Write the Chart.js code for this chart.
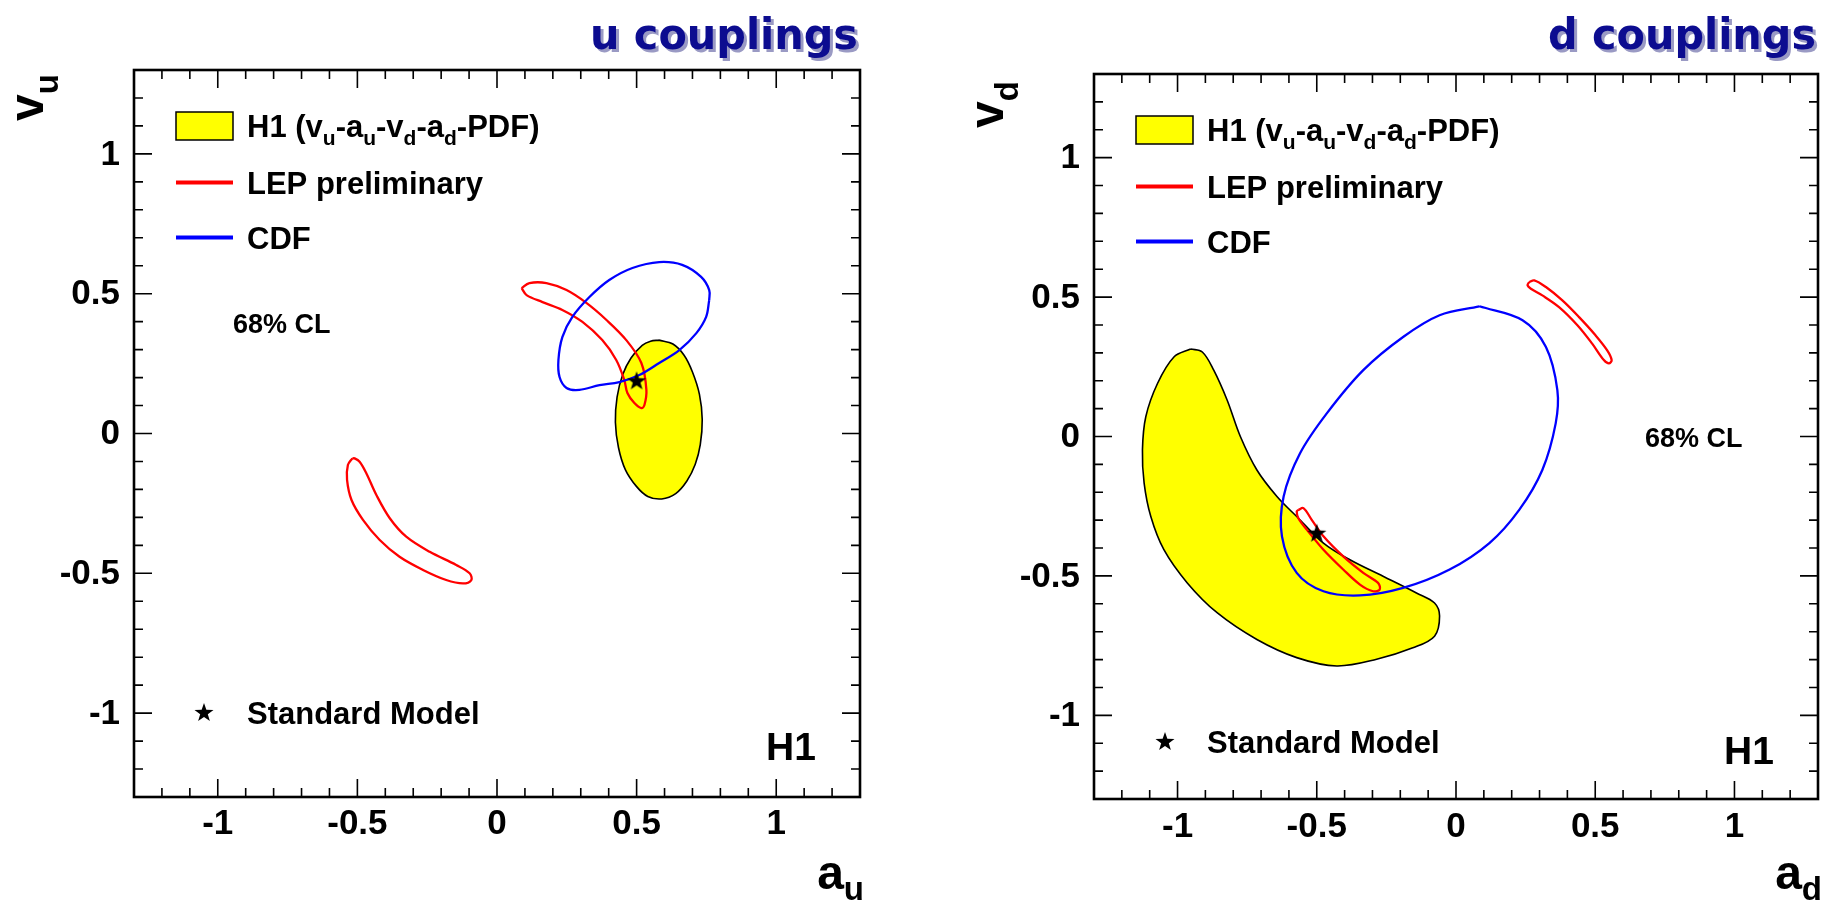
<!DOCTYPE html>
<html>
<head>
<meta charset="UTF-8">
<title>H1 u and d couplings</title>
<style>
  html, body { margin: 0; padding: 0; background: #fff; }
  body { width: 1829px; height: 902px; position: relative; overflow: hidden; }
  canvas { position: absolute; top: 0; }
  #uChart { left: 0; }
  #dChart { left: 914px; }
</style>
</head>
<body>
<canvas id="uChart" width="914" height="902"></canvas>
<canvas id="dChart" width="915" height="902"></canvas>
<script src="https://cdn.jsdelivr.net/npm/chart.js"></script>
<script>
// axis range and labelled ticks (same on both axes of both panels)
const axisMin = -1.3, axisMax = 1.3;
const tickValues = [-1, -0.5, 0, 0.5, 1];
const tickLabels = ['-1', '-0.5', '0', '0.5', '1'];

// ---- u couplings: points are [a_u, v_u] ----
const uH1 = [[0.58,0.334],[0.63,0.32],[0.67,0.28],[0.70,0.22],[0.725,0.14],[0.735,0.05],[0.728,-0.04],[0.71,-0.11],[0.68,-0.17],[0.64,-0.215],[0.59,-0.234],[0.54,-0.225],[0.50,-0.19],[0.46,-0.13],[0.435,-0.05],[0.424,0.04],[0.43,0.13],[0.45,0.21],[0.48,0.27],[0.52,0.315],[0.55,0.33],[0.58,0.334]];
const uLEPa = [[0.088,0.520],[0.116,0.538],[0.177,0.538],[0.249,0.513],[0.320,0.467],[0.392,0.406],[0.463,0.334],[0.517,0.252],[0.535,0.156],[0.528,0.102],[0.517,0.091],[0.492,0.109],[0.467,0.145],[0.456,0.191],[0.427,0.263],[0.377,0.334],[0.306,0.399],[0.234,0.442],[0.163,0.470],[0.106,0.495],[0.088,0.520]];
const uLEPb = [[-0.518,-0.089],[-0.534,-0.113],[-0.537,-0.166],[-0.521,-0.238],[-0.480,-0.309],[-0.420,-0.381],[-0.349,-0.441],[-0.265,-0.488],[-0.182,-0.524],[-0.122,-0.536],[-0.092,-0.524],[-0.098,-0.500],[-0.146,-0.470],[-0.241,-0.423],[-0.325,-0.369],[-0.384,-0.303],[-0.432,-0.220],[-0.468,-0.142],[-0.492,-0.101],[-0.510,-0.089],[-0.518,-0.089]];
const uCDF = [[0.760,0.477],[0.749,0.417],[0.714,0.359],[0.653,0.298],[0.581,0.252],[0.510,0.209],[0.438,0.184],[0.367,0.173],[0.295,0.156],[0.249,0.163],[0.224,0.202],[0.220,0.263],[0.234,0.345],[0.270,0.417],[0.331,0.488],[0.402,0.549],[0.485,0.592],[0.581,0.613],[0.663,0.603],[0.731,0.560],[0.760,0.513],[0.760,0.477]];
const uSM = [[0.5, 0.19]];

// ---- d couplings: points are [a_d, v_d] ----
const dH1 = [[-0.953,0.314],[-1.013,0.285],[-1.072,0.190],[-1.114,0.071],[-1.126,-0.048],[-1.120,-0.167],[-1.096,-0.287],[-1.049,-0.406],[-0.965,-0.525],[-0.858,-0.632],[-0.715,-0.728],[-0.572,-0.793],[-0.428,-0.823],[-0.285,-0.799],[-0.155,-0.758],[-0.077,-0.716],[-0.059,-0.644],[-0.077,-0.597],[-0.142,-0.561],[-0.262,-0.501],[-0.381,-0.442],[-0.476,-0.382],[-0.572,-0.287],[-0.643,-0.215],[-0.715,-0.120],[-0.774,-0.001],[-0.822,0.131],[-0.870,0.238],[-0.911,0.303],[-0.953,0.314]];
const dLEPa = [[-0.566,-0.263],[-0.548,-0.257],[-0.518,-0.299],[-0.476,-0.358],[-0.405,-0.430],[-0.333,-0.489],[-0.280,-0.525],[-0.274,-0.549],[-0.298,-0.555],[-0.345,-0.531],[-0.405,-0.477],[-0.476,-0.406],[-0.536,-0.334],[-0.566,-0.293],[-0.572,-0.269],[-0.566,-0.263]];
const dLEPb = [[0.263,0.554],[0.281,0.560],[0.323,0.536],[0.382,0.488],[0.442,0.428],[0.501,0.363],[0.543,0.309],[0.559,0.274],[0.549,0.262],[0.531,0.274],[0.489,0.333],[0.436,0.399],[0.370,0.464],[0.310,0.506],[0.269,0.530],[0.257,0.542],[0.263,0.554]];
const dCDF = [[0.084,0.467],[0.239,0.417],[0.323,0.321],[0.364,0.166],[0.358,0.047],[0.310,-0.120],[0.227,-0.263],[0.120,-0.382],[-0.023,-0.477],[-0.190,-0.543],[-0.345,-0.570],[-0.476,-0.555],[-0.572,-0.489],[-0.625,-0.358],[-0.619,-0.215],[-0.560,-0.060],[-0.464,0.083],[-0.333,0.238],[-0.190,0.357],[-0.059,0.435],[0.084,0.467]];
const dSM = [[-0.5, -0.345]];

const FONT = '"Liberation Sans", Arial, sans-serif';

function makeStar(size) {
  const c = document.createElement('canvas');
  c.width = c.height = size;
  const g = c.getContext('2d');
  g.beginPath();
  for (let k = 0; k < 10; k++) {
    const r = k % 2 ? size * 0.2 : size * 0.5;
    const ang = -Math.PI / 2 + k * Math.PI / 5;
    g.lineTo(size / 2 + r * Math.cos(ang), size / 2 + 1 + r * Math.sin(ang));
  }
  g.closePath();
  g.fillStyle = '#000';
  g.fill();
  return c;
}
const star = makeStar(20);

const toPts = arr => arr.map(([x, y]) => ({x, y}));

function contour(label, arr, color, order) {
  return {
    label, data: toPts(arr), showLine: true, fill: false,
    borderColor: color, borderWidth: 2.3, pointRadius: 0, tension: 0.35, order
  };
}

// draw a string made of normal and subscript pieces, returns end x
function drawParts(ctx, parts, x, y, size) {
  for (const [txt, sub] of parts) {
    const s = sub ? Math.round(size * 0.68) : size;
    ctx.font = 'bold ' + s + 'px ' + FONT;
    ctx.fillText(txt, x, sub ? y + size * 0.27 : y);
    x += ctx.measureText(txt).width;
  }
  return x;
}

const decoPlugin = {
  id: 'deco',
  afterDatasetsDraw(chart, args, o) {
    const {ctx, chartArea: a, scales: {x, y}} = chart;
    ctx.save();
    ctx.strokeStyle = '#000';
    ctx.fillStyle = '#000';

    // tick marks on all four sides, pointing inwards
    ctx.lineWidth = 1.6;
    ctx.beginPath();
    for (let i = -12; i <= 12; i++) {
      const v = i / 10;
      const len = i % 5 === 0 ? 18 : 9;
      const px = x.getPixelForValue(v), py = y.getPixelForValue(v);
      ctx.moveTo(px, a.bottom); ctx.lineTo(px, a.bottom - len);
      ctx.moveTo(px, a.top); ctx.lineTo(px, a.top + len);
      ctx.moveTo(a.left, py); ctx.lineTo(a.left + len, py);
      ctx.moveTo(a.right, py); ctx.lineTo(a.right - len, py);
    }
    ctx.stroke();
    ctx.lineWidth = 2.6;
    ctx.strokeRect(a.left, a.top, a.right - a.left, a.bottom - a.top);

    // tick labels
    ctx.font = 'bold 35px ' + FONT;
    ctx.textBaseline = 'middle';
    ctx.textAlign = 'center';
    tickValues.forEach((v, i) => ctx.fillText(tickLabels[i], x.getPixelForValue(v), a.bottom + o.xLabelDy));
    ctx.textAlign = 'right';
    tickValues.forEach((v, i) => ctx.fillText(tickLabels[i], a.left - 14, y.getPixelForValue(v) + 1));

    // axis titles
    ctx.textAlign = 'left';
    ctx.textBaseline = 'alphabetic';
    ctx.font = 'bold 48px ' + FONT;
    const wa = ctx.measureText('a').width;
    ctx.font = 'bold 33px ' + FONT;
    const ws = ctx.measureText(o.sub).width;
    const tx = a.right + 4 - wa - ws;
    ctx.font = 'bold 48px ' + FONT;
    ctx.fillText('a', tx, 889);
    ctx.font = 'bold 33px ' + FONT;
    ctx.fillText(o.sub, tx + wa, 900);

    ctx.save();
    ctx.translate(a.left - 91, o.vStart);
    ctx.rotate(-Math.PI / 2);
    ctx.font = 'bold 48px ' + FONT;
    ctx.fillText('v', 0, 0);
    const wv = ctx.measureText('v').width;
    ctx.font = 'bold 33px ' + FONT;
    ctx.fillText(o.sub, wv, 15);
    ctx.restore();

    // legend
    const lx = a.left + 42, tX = a.left + 113;
    const r1 = a.top + 56, r2 = a.top + 112.5, r3 = a.top + 167.5;
    ctx.fillStyle = '#ffff00';
    ctx.fillRect(lx, r1 - 14, 57, 28);
    ctx.lineWidth = 1.5;
    ctx.strokeRect(lx, r1 - 14, 57, 28);
    ctx.lineWidth = 4;
    ctx.strokeStyle = '#ff0000';
    ctx.beginPath(); ctx.moveTo(lx, r2); ctx.lineTo(lx + 57, r2); ctx.stroke();
    ctx.strokeStyle = '#0000ff';
    ctx.beginPath(); ctx.moveTo(lx, r3); ctx.lineTo(lx + 57, r3); ctx.stroke();
    ctx.fillStyle = '#000';
    drawParts(ctx, [['H1 (v',0],['u',1],['-a',0],['u',1],['-v',0],['d',1],['-a',0],['d',1],['-PDF)',0]], tX, r1 + 11, 31);
    drawParts(ctx, [['LEP preliminary', 0]], tX, r2 + 11, 31);
    drawParts(ctx, [['CDF', 0]], tX, r3 + 11, 31);

    // Standard Model entry
    ctx.drawImage(star, a.left + o.sm[0] - 10, a.top + o.sm[1] - 11);
    drawParts(ctx, [['Standard Model', 0]], tX, a.top + o.sm[1] + 11, 31);

    // 68% CL
    drawParts(ctx, [['68% CL', 0]], a.left + o.cl[0], a.top + o.cl[1] + 10, 27);

    // H1 tag
    drawParts(ctx, [['H1', 0]], a.left + o.h1x, a.top + 690, 39);

    // panel title
    ctx.font = 'bold 42px "DejaVu Sans", sans-serif';
    const tw = ctx.measureText(o.title).width;
    const sx = 268 / tw;
    ctx.save();
    ctx.translate(a.right - 270, 49);
    ctx.scale(sx, 1);
    ctx.fillStyle = '#9a9ac4';
    ctx.fillText(o.title, 3 / sx, 3);
    ctx.fillStyle = '#0c0c90';
    ctx.fillText(o.title, 0, 0);
    ctx.restore();

    ctx.restore();
  }
};

function makePanel(id, padding, sets, deco) {
  new Chart(document.getElementById(id), {
    type: 'scatter',
    data: {datasets: sets},
    options: {
      responsive: false,
      animation: false,
      events: [],
      layout: {padding},
      scales: {
        x: {type: 'linear', min: axisMin, max: axisMax, display: false},
        y: {type: 'linear', min: axisMin, max: axisMax, display: false}
      },
      plugins: {legend: {display: false}, tooltip: {enabled: false}, deco}
    },
    plugins: [decoPlugin]
  });
}

function panelSets(h1, lepA, lepB, cdf, sm) {
  return [
    {label: 'Standard Model', data: toPts(sm), pointStyle: star, pointRadius: 10, showLine: false, order: 0},
    contour('CDF', cdf, '#0000ff', 1),
    contour('LEP preliminary', lepA, '#ff0000', 2),
    contour('LEP preliminary', lepB, '#ff0000', 2),
    {label: 'H1', data: toPts(h1), showLine: true, fill: 'shape', backgroundColor: '#ffff00',
     borderColor: '#000', borderWidth: 1.6, pointRadius: 0, tension: 0.35, order: 10}
  ];
}

makePanel('uChart', {left: 134, right: 54, top: 70, bottom: 105},
  panelSets(uH1, uLEPa, uLEPb, uCDF, uSM),
  {sub: 'u', title: 'u couplings', vStart: 121, xLabelDy: 27, sm: [70, 643], cl: [99, 253], h1x: 632});

makePanel('dChart', {left: 180, right: 9, top: 74, bottom: 103},
  panelSets(dH1, dLEPa, dLEPb, dCDF, dSM),
  {sub: 'd', title: 'd couplings', vStart: 128, xLabelDy: 28, sm: [71, 668], cl: [551, 363], h1x: 630});
</script>
</body>
</html>
